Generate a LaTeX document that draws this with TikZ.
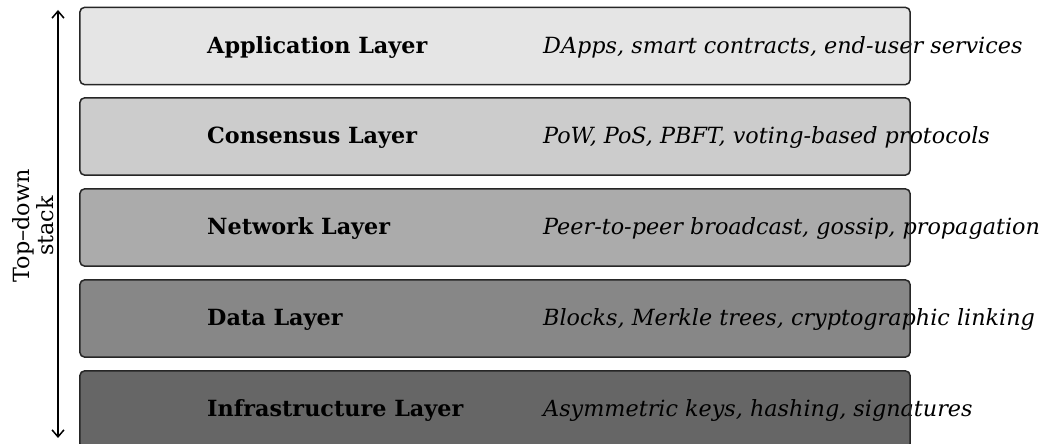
\documentclass[tikz,border=0pt]{standalone}
\usepackage{fontspec}
\setmainfont{DejaVu Serif}
\usetikzlibrary{arrows.meta}

\definecolor{appgray}{gray}{0.90}
\definecolor{consgray}{gray}{0.80}
\definecolor{netgray}{gray}{0.67}
\definecolor{datagray}{gray}{0.53}
\definecolor{infragray}{gray}{0.40}

\tikzset{
  x=1pt, y=1pt,
  layerbox/.style={rectangle, rounded corners=5pt, minimum width=830pt,
    minimum height=77pt, inner sep=0pt, draw=none},
  layerborder/.style={draw=black!85, line width=1.5pt, rounded corners=5pt},
  layername/.style={anchor=west, inner sep=0pt, yshift=-1.5pt, font=\fontsize{22.3}{26}\selectfont\bfseries},
  layerdesc/.style={anchor=west, inner sep=0pt, yshift=-1.5pt, font=\fontsize{22.3}{26}\selectfont\itshape},
  stackarrow/.style={line width=1.5pt, {Straight Barb[length=7pt,width=12pt]}-{Straight Barb[length=7pt,width=12pt]}}
}

\begin{document}
\begin{tikzpicture}
\useasboundingbox (0,0) rectangle (1042,444);
\clip (0,0) rectangle (1042,444);

% layer boxes (fill only; borders are drawn last)
\node[layerbox, fill=appgray]   (app)   at (495,398)   {};
\node[layerbox, fill=consgray]  (cons)  at (495,307.5) {};
\node[layerbox, fill=netgray]   (net)   at (495,216.5) {};
\node[layerbox, fill=datagray]  (data)  at (495,125.5) {};
\node[layerbox, fill=infragray] (infra) at (495,34.5)  {};

% layer names and descriptions
\node[layername] (appn)   at (207,398)   {Application Layer};
\node[layername] (consn)  at (207,307.5) {Consensus Layer};
\node[layername] (netn)   at (207,216.5) {Network Layer};
\node[layername] (datan)  at (207,125.5) {Data Layer};
\node[layername] (infran) at (207,34.5)  {Infrastructure Layer};

\node[layerdesc] (appd)   at (543,398)   {DApps, smart contracts, end-user services};
\node[layerdesc] (consd)  at (543,307.5) {PoW, PoS, PBFT, voting-based protocols};
\node[layerdesc] (netd)   at (543,216.5) {Peer-to-peer broadcast, gossip, propagation};
\node[layerdesc] (datad)  at (543,125.5) {Blocks, Merkle trees, cryptographic linking};
\node[layerdesc] (infrad) at (543,34.5)  {Asymmetric keys, hashing, signatures};

% borders on top
\foreach \b in {app,cons,net,data,infra}
  \draw[layerborder] (\b.south west) rectangle (\b.north east);

% stack direction arrow and label
\coordinate (stacktop) at (58,434);
\coordinate (stackbot) at (58,6);
\draw[stackarrow] (stackbot) -- (stacktop);
\node[rotate=90, align=center, inner sep=0pt, font=\fontsize{22.3}{24}\selectfont] (stacklabel) at (33,218) {Top--down\\stack};
\end{tikzpicture}
\end{document}
